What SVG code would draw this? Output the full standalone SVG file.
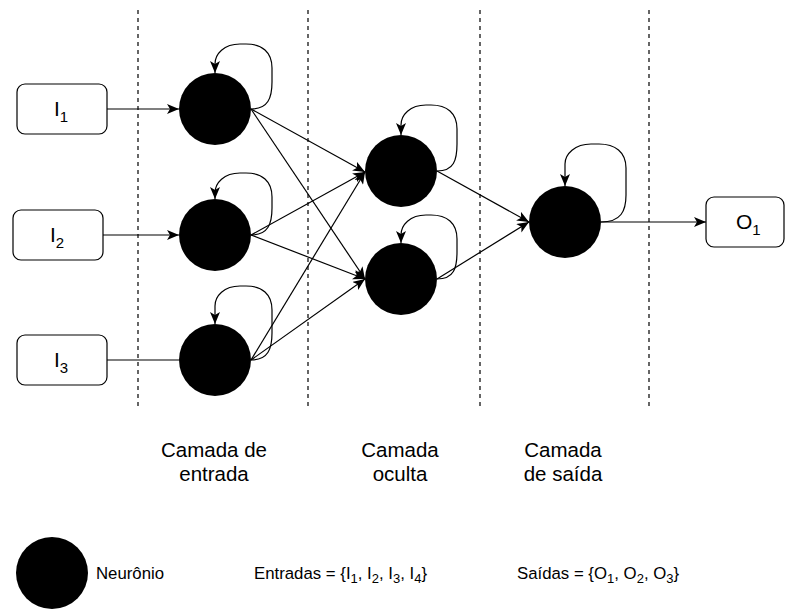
<svg xmlns="http://www.w3.org/2000/svg" width="786" height="610" viewBox="0 0 786 610">
  <style>
    .box { fill: #ffffff; stroke: #000000; stroke-width: 1.2; }
    .neuron { fill: #000000; stroke: none; }
    .edge { fill: none; stroke: #000000; stroke-width: 1.2; }
    .sep { fill: none; stroke: #000000; stroke-width: 1.2; stroke-dasharray: 4 4; }
    .lbl { font-family: "Liberation Sans", Arial, sans-serif; fill: #000000; }
    .big { font-size: 21px; }
    .layer { font-size: 20.5px; text-anchor: middle; }
    .small { font-size: 16.8px; }
  </style>
  <defs>
    <marker id="arrow" markerUnits="userSpaceOnUse" markerWidth="14" markerHeight="10" refX="12" refY="5" orient="auto">
      <path d="M0,0 L12,5 L0,10 L3,5 Z" fill="#000000"/>
    </marker>
  </defs>

  <!-- layer separators -->
  <g id="separators">
    <line class="sep" x1="138" y1="10" x2="138" y2="410"/>
    <line class="sep" x1="308" y1="10" x2="308" y2="410"/>
    <line class="sep" x1="480" y1="10" x2="480" y2="410"/>
    <line class="sep" x1="649" y1="10" x2="649" y2="410"/>
  </g>

  <!-- connectors -->
  <g id="connectors">
    <line class="edge" x1="107" y1="109" x2="179" y2="109" marker-end="url(#arrow)"/>
    <line class="edge" x1="103" y1="235" x2="179" y2="235" marker-end="url(#arrow)"/>
    <line class="edge" x1="107" y1="360" x2="179" y2="360"/>

    <line class="edge" x1="251" y1="109" x2="365" y2="172" marker-end="url(#arrow)"/>
    <line class="edge" x1="251" y1="109" x2="365" y2="279" marker-end="url(#arrow)"/>
    <line class="edge" x1="251" y1="235" x2="365" y2="172" marker-end="url(#arrow)"/>
    <line class="edge" x1="251" y1="235" x2="365" y2="279" marker-end="url(#arrow)"/>
    <line class="edge" x1="251" y1="360" x2="365" y2="172" marker-end="url(#arrow)"/>
    <line class="edge" x1="251" y1="360" x2="365" y2="279" marker-end="url(#arrow)"/>

    <line class="edge" x1="437" y1="171" x2="529" y2="222" marker-end="url(#arrow)"/>
    <line class="edge" x1="437" y1="279" x2="529" y2="222" marker-end="url(#arrow)"/>

    <line class="edge" x1="601" y1="222" x2="706" y2="222" marker-end="url(#arrow)"/>

    <!-- self loops -->
    <path class="edge" marker-end="url(#arrow)" d="M251 109 C268 109 272 98 272 82 L272 68 C272 52 262 44 246 44 L240 44 C224 44 215 54 215 64 L215 73"/>
    <path class="edge" marker-end="url(#arrow)" d="M251 235 C268 235 272 224 272 208 L272 197 C272 181 262 173 246 173 L240 173 C224 173 215 183 215 193 L215 199"/>
    <path class="edge" marker-end="url(#arrow)" d="M251 360 C268 360 272 349 272 333 L272 310 C272 294 262 286 246 286 L240 286 C224 286 215 296 215 306 L215 324"/>
    <path class="edge" marker-end="url(#arrow)" d="M437 171 C454 171 457 160 457 144 L457 129 C457 113 447 105 431 105 L426 105 C410 105 401 115 401 125 L401 135"/>
    <path class="edge" marker-end="url(#arrow)" d="M437 279 C454 279 457 268 457 252 L457 239 C457 223 447 215 431 215 L426 215 C410 215 401 225 401 235 L401 243"/>
    <path class="edge" marker-end="url(#arrow)" d="M601 222 C621 222 626 211 626 195 L626 168 C626 152 615 144 599 144 L591 144 C575 144 565 154 565 164 L565 186"/>
  </g>

  <!-- input boxes -->
  <g id="input1">
    <rect class="box" x="17" y="84" width="90" height="50" rx="8"/>
    <text class="lbl big" x="54" y="116">I<tspan font-size="15" dy="6">1</tspan></text>
  </g>
  <g id="input2">
    <rect class="box" x="13" y="210" width="90" height="50" rx="8"/>
    <text class="lbl big" x="50" y="242">I<tspan font-size="15" dy="6">2</tspan></text>
  </g>
  <g id="input3">
    <rect class="box" x="17" y="335" width="90" height="50" rx="8"/>
    <text class="lbl big" x="54" y="367">I<tspan font-size="15" dy="6">3</tspan></text>
  </g>

  <!-- neurons -->
  <g id="in-neuron1"><circle class="neuron" cx="215" cy="109" r="36"/></g>
  <g id="in-neuron2"><circle class="neuron" cx="215" cy="235" r="36"/></g>
  <g id="in-neuron3"><circle class="neuron" cx="215" cy="360" r="36"/></g>
  <g id="hidden-neuron1"><circle class="neuron" cx="401" cy="171" r="36"/></g>
  <g id="hidden-neuron2"><circle class="neuron" cx="401" cy="279" r="36"/></g>
  <g id="out-neuron"><circle class="neuron" cx="565" cy="222" r="36"/></g>

  <!-- output box -->
  <g id="output1">
    <rect class="box" x="706" y="197" width="78" height="50" rx="8"/>
    <text class="lbl big" x="736" y="229">O<tspan font-size="15" dy="6">1</tspan></text>
  </g>

  <!-- layer captions -->
  <g id="caption-input">
    <text class="lbl layer" x="214" y="457">Camada de</text>
    <text class="lbl layer" x="214" y="481">entrada</text>
  </g>
  <g id="caption-hidden">
    <text class="lbl layer" x="400" y="457">Camada</text>
    <text class="lbl layer" x="400" y="481">oculta</text>
  </g>
  <g id="caption-output">
    <text class="lbl layer" x="563" y="457">Camada</text>
    <text class="lbl layer" x="563" y="481">de saída</text>
  </g>

  <!-- legend -->
  <g id="legend-neuron">
    <circle class="neuron" cx="52" cy="573" r="36"/>
    <text class="lbl small" x="96" y="579">Neurônio</text>
  </g>
  <g id="legend-inputs">
    <text class="lbl small" x="254" y="579">Entradas = {I<tspan font-size="13" dy="4">1</tspan><tspan dy="-4">, I</tspan><tspan font-size="13" dy="4">2</tspan><tspan dy="-4">, I</tspan><tspan font-size="13" dy="4">3</tspan><tspan dy="-4">, I</tspan><tspan font-size="13" dy="4">4</tspan><tspan dy="-4">}</tspan></text>
  </g>
  <g id="legend-outputs">
    <text class="lbl small" x="517" y="579">Saídas = {O<tspan font-size="13" dy="4">1</tspan><tspan dy="-4">, O</tspan><tspan font-size="13" dy="4">2</tspan><tspan dy="-4">, O</tspan><tspan font-size="13" dy="4">3</tspan><tspan dy="-4">}</tspan></text>
  </g>
</svg>
